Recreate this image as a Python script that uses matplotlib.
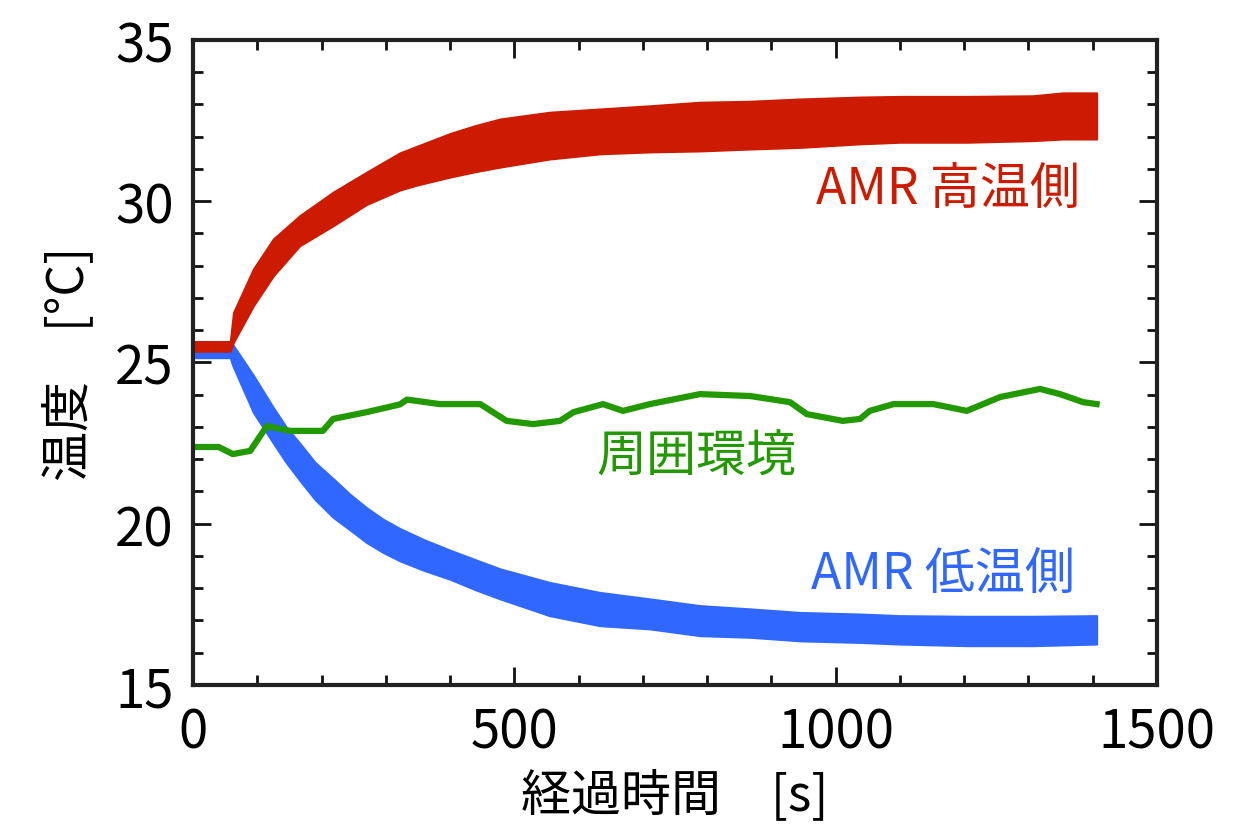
import numpy as np
import matplotlib.pyplot as plt

plt.rcParams['font.family'] = ['Noto Sans CJK JP', 'DejaVu Sans']

# AMR high-temperature side (band envelope)
t_hot = [0, 58, 63, 94, 125, 166, 218, 270, 322, 348, 400, 440, 478, 555, 633,
         711, 789, 867, 944, 1038, 1100, 1204, 1307, 1354, 1406]
hot_top = [25.65, 25.65, 26.55, 27.9, 28.83, 29.55, 30.28, 30.9, 31.5, 31.7,
           32.1, 32.35, 32.55, 32.76, 32.86, 32.96, 33.07, 33.1, 33.17, 33.23,
           33.25, 33.25, 33.27, 33.36, 33.36]
hot_bot = [25.35, 25.35, 25.63, 26.76, 27.69, 28.62, 29.24, 29.9, 30.35, 30.5,
           30.75, 30.92, 31.06, 31.31, 31.47, 31.53, 31.56, 31.62, 31.67, 31.78,
           31.83, 31.83, 31.88, 31.93, 31.93]

# AMR low-temperature side (band envelope)
t_cold = [0, 58, 62, 94, 125, 145, 166, 190, 218, 245, 270, 295, 322, 360, 400,
          440, 478, 555, 633, 711, 789, 867, 944, 1038, 1100, 1204, 1307, 1406]
cold_top = [25.4, 25.4, 25.55, 24.6, 23.6, 23.0, 22.5, 21.9, 21.4, 20.9, 20.5,
            20.15, 19.85, 19.5, 19.18, 18.88, 18.6, 18.18, 17.87, 17.67, 17.46,
            17.36, 17.25, 17.2, 17.15, 17.13, 17.13, 17.15]
cold_bot = [25.15, 25.15, 24.9, 23.45, 22.5, 21.9, 21.35, 20.75, 20.2, 19.8,
            19.42, 19.12, 18.85, 18.55, 18.28, 17.95, 17.67, 17.15, 16.84, 16.74,
            16.53, 16.48, 16.37, 16.32, 16.27, 16.22, 16.22, 16.27]

# ambient
t_amb = [0, 40, 62, 89, 115, 151, 202, 218, 270, 322, 333, 384, 447, 488, 529,
         571, 592, 638, 669, 711, 789, 867, 929, 955, 1011, 1038, 1053, 1090,
         1152, 1204, 1256, 1318, 1349, 1385, 1406]
amb = [22.38, 22.38, 22.16, 22.26, 23.03, 22.88, 22.88, 23.25, 23.46, 23.7,
       23.85, 23.71, 23.71, 23.19, 23.09, 23.19, 23.46, 23.71, 23.5, 23.71,
       24.02, 23.96, 23.77, 23.4, 23.19, 23.25, 23.5, 23.71, 23.71, 23.5,
       23.93, 24.18, 24.02, 23.77, 23.71]

red = '#cc1b00'
blue = '#3068ff'
green = '#229900'

fig = plt.figure(figsize=(12.59, 8.28), dpi=100)
ax = fig.add_axes([0.1533, 0.1715, 0.919 - 0.1533, 0.9505 - 0.1715])

ax.fill_between(t_cold, cold_bot, cold_top, color=blue, lw=1.5)
ax.fill_between(t_hot, hot_bot, hot_top, color=red, lw=1.5)
ax.plot(t_amb, amb, color=green, lw=4.5)

ax.text(1175, 30.38, 'AMR 高温側', color=red, fontsize=36, ha='center', va='center')
ax.text(784, 22.07, '周囲環境', color=green, fontsize=36, ha='center', va='center')
ax.text(1167, 18.44, 'AMR 低温側', color=blue, fontsize=36, ha='center', va='center')

ax.set_xlim(0, 1500)
ax.set_ylim(15, 35)
ax.set_xticks([0, 500, 1000, 1500])
ax.set_yticks([15, 20, 25, 30, 35])
ax.set_xticks(np.arange(0, 1501, 100), minor=True)
ax.set_yticks(np.arange(15, 35.1, 1), minor=True)
ax.tick_params(which='both', direction='in', top=True, right=True,
               width=2, labelsize=38, color='#111111')
ax.tick_params(which='major', length=13)
ax.tick_params(which='minor', length=7)
ax.tick_params(axis='y', pad=14)
ax.tick_params(axis='x', pad=14)
for s in ax.spines.values():
    s.set_linewidth(3)
    s.set_color('#222222')

ax.set_xlabel('経過時間　[s]', fontsize=36, labelpad=7)
ax.set_ylabel('温度　[°C]', fontsize=36, labelpad=14)

fig.savefig('out.png', dpi=100)
